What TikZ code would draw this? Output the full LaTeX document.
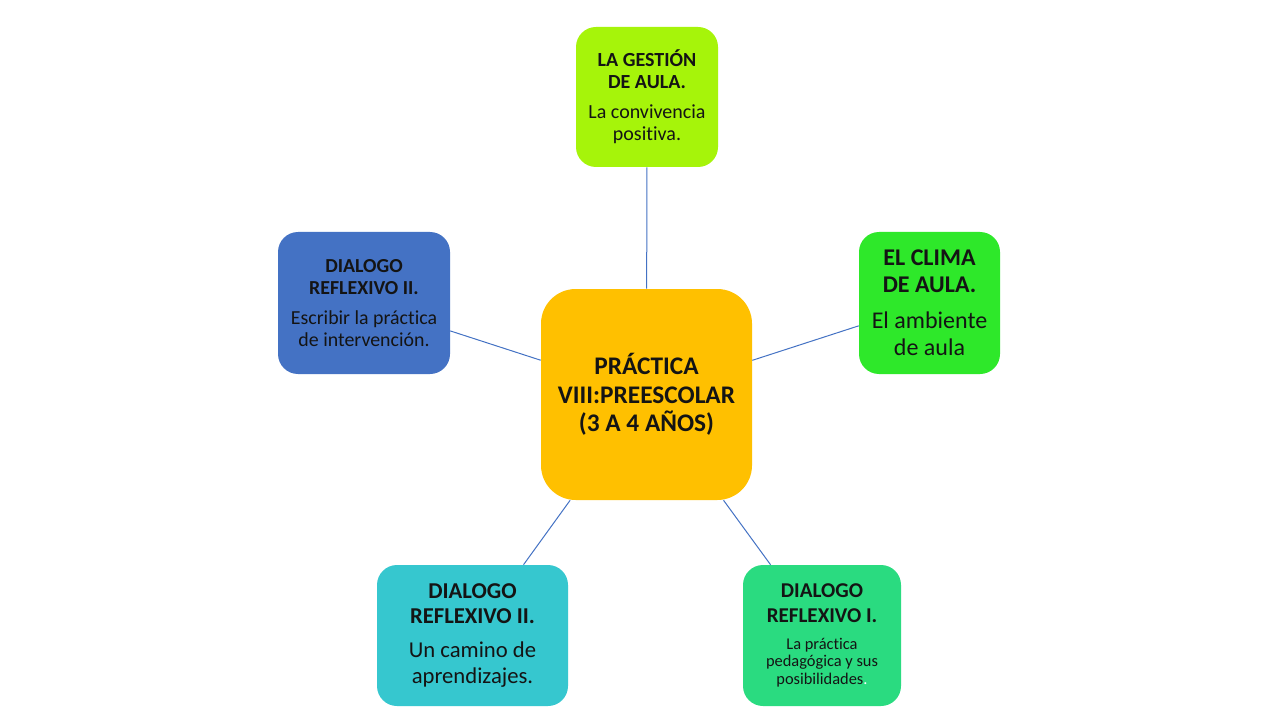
\documentclass[tikz,border=0pt]{standalone}
\usepackage{fontspec}
\setmainfont[Ligatures=NoCommon]{Carlito}
\definecolor{lnblue}{HTML}{4472C4}
\definecolor{ctop}{HTML}{A6F40A}
\definecolor{cleft}{HTML}{4472C4}
\definecolor{cright}{HTML}{2EE82A}
\definecolor{ccenter}{HTML}{FFC000}
\definecolor{cbl}{HTML}{36C7CF}
\definecolor{cbr}{HTML}{2ADB80}
\definecolor{txt}{HTML}{141414}
\newcommand{\fs}[2]{\fontsize{#1}{#2}\selectfont}
\begin{document}
\begin{tikzpicture}[x=0.75pt,y=-0.75pt,
  box/.style={rectangle,rounded corners=15pt,draw=none,align=center,text=txt,inner sep=0pt},
  link/.style={draw=lnblue,line width=0.75pt}]
\useasboundingbox (0,0) rectangle (1280,720);
\fill[white] (0,0) rectangle (1280,720);
\node[box,fill=ccenter,minimum width=158.25pt,minimum height=158.25pt,rounded corners=26pt,font=\fs{19}{21.4pt}\bfseries] (c) at (646.5,394.5)
  {PRÁCTICA\\ VIII:PREESCOLAR\\ (3 A 4 AÑOS)};
\node[box,fill=ctop,minimum width=106.5pt,minimum height=105pt,font=\fs{15}{16.5pt}] (t) at (647,97)
  {\textbf{LA GESTIÓN}\\ \textbf{DE AULA.}\\[6pt] La convivencia\\ positiva.};
\node[box,fill=cleft,minimum width=129pt,minimum height=106.5pt,font=\fs{14.9}{16.8pt}] (l) at (364,303)
  {\textbf{DIALOGO}\\ \textbf{REFLEXIVO II.}\\[5.5pt] Escribir la práctica\\ de intervención.};
\node[box,fill=cright,minimum width=105.75pt,minimum height=106.5pt,font=\fs{18}{20.25pt}] (r) at (929.5,303)
  {\textbf{EL CLIMA}\\ \textbf{DE AULA.}\\[6.75pt] El ambiente\\ de aula};
\node[box,fill=cbl,minimum width=143.25pt,minimum height=105.75pt,font=\fs{17}{19pt}] (bl) at (472.5,635.5)
  {\textbf{DIALOGO}\\ \textbf{REFLEXIVO II.}\\[6.5pt] Un camino de\\ aprendizajes.};
\node[box,fill=cbr,minimum width=118.5pt,minimum height=105.75pt,font=\fs{15.8}{18.75pt}] (br) at (822,635.5)
  {\textbf{DIALOGO}\\ \textbf{REFLEXIVO I.}\\[1pt] {\fs{12.3}{13.1pt}La práctica}\\[-5.65pt] {\fs{12.3}{13.1pt}pedagógica y sus}\\[-5.65pt] {\fs{12.3}{13.1pt}posibilidades\textcolor{white}{.}}};
\draw[link] (c) -- (t);
\draw[link] (c) -- (l);
\draw[link] (c) -- (r);
\draw[link] (c) -- (bl);
\draw[link] (c) -- (br);
\end{tikzpicture}
\end{document}
